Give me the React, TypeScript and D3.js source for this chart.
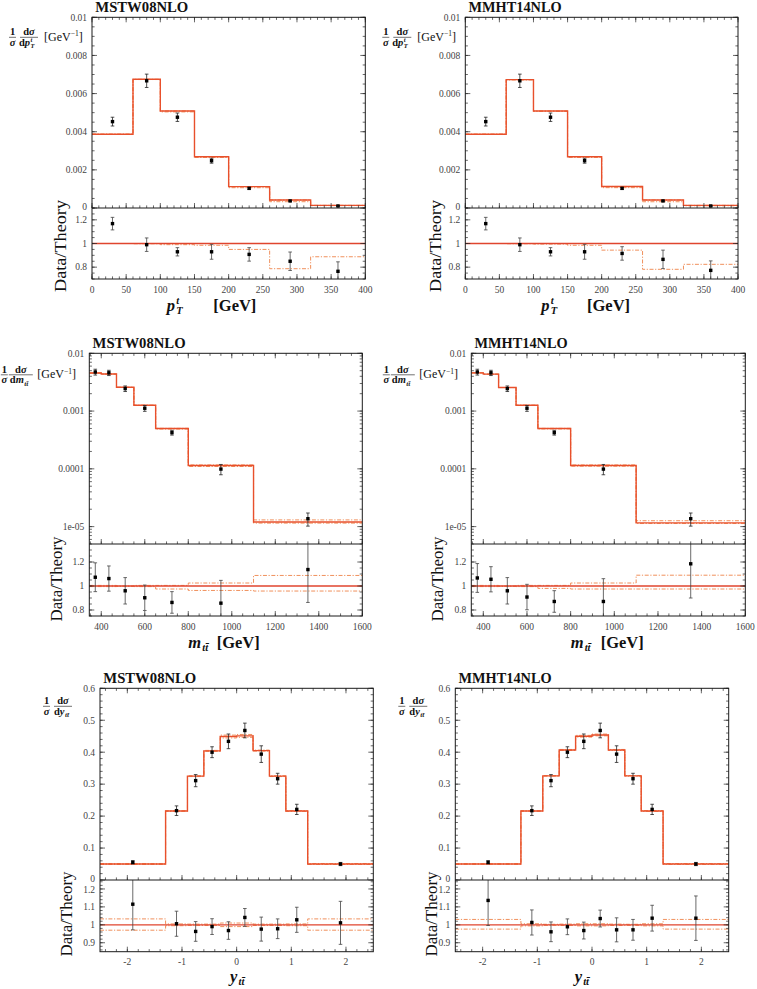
import React from "react";
import * as d3 from "d3";

// ---------------- data ----------------
const pdfTitles = ["MSTW08NLO", "MMHT14NLO"];

// top-quark transverse momentum p_T^t
const ptEdges = [0, 60, 100, 150, 200, 260, 320, 400];
const ptCenters = [30, 80, 125, 175, 230, 290, 360];
const ptData = [0.00453, 0.00667, 0.00476, 0.00248, 0.00103, 0.00037, 0.000105];
const ptDataErr = [0.00023, 0.00035, 0.00022, 0.00013, 0.00005, 0.00003, 0.00002];
const ptTheoryMSTW = [0.00387, 0.00675, 0.00509, 0.00269, 0.00112, 0.00042, 0.00014];
const ptTheoryMMHT = [0.00387, 0.00673, 0.00509, 0.00269, 0.00113, 0.00042, 0.00014];
const ptBandHiMSTW = [1, 1, 1, 1, 1, 1, 1];
const ptBandLoMSTW = [1.0, 0.998, 0.99, 0.985, 0.95, 0.787, 0.888];
const ptBandHiMMHT = [1, 1, 1, 1, 1, 1, 1];
const ptBandLoMMHT = [1.0, 0.998, 0.995, 0.985, 0.944, 0.782, 0.824];
const ptRatioMSTW = [1.168, 0.99, 0.93, 0.93, 0.908, 0.85, 0.765];
const ptRatioErrMSTW = [0.053, 0.057, 0.035, 0.063, 0.057, 0.078, 0.08];
const ptRatioMMHT = [1.168, 0.99, 0.93, 0.93, 0.916, 0.866, 0.773];
const ptRatioErrMMHT = [0.053, 0.057, 0.035, 0.063, 0.057, 0.078, 0.08];

// top-pair invariant mass m_tt
const mEdges = [345, 400, 470, 550, 650, 800, 1100, 1600];
const mCenters = [372.5, 435, 510, 600, 725, 950, 1350];
const mData = [0.00475, 0.0046, 0.00245, 0.00112, 0.000424, 0.000099, 0.0000137];
const mDataErr = [0.00055, 0.00048, 0.00027, 0.00013, 0.00004, 0.00002, 0.0000035];
const mTheoryMSTW = [0.00455, 0.00438, 0.00258, 0.00126, 0.0005, 0.000114, 0.000012];
const mTheoryMMHT = [0.00458, 0.00436, 0.00256, 0.00126, 0.0005, 0.000114, 0.0000116];
const mBandHiMSTW = [1.005, 1.005, 1.0, 1.005, 1.005, 1.025, 1.088];
const mBandLoMSTW = [0.995, 0.995, 0.997, 0.995, 0.975, 0.963, 0.958];
const mBandHiMMHT = [1.005, 1.005, 1.0, 1.005, 1.005, 1.025, 1.09];
const mBandLoMMHT = [0.995, 0.995, 0.997, 0.995, 0.98, 0.975, 0.975];
const mRatioMSTW = [1.073, 1.062, 0.96, 0.902, 0.863, 0.857, 1.137];
const mRatioErrMSTW = [0.12, 0.105, 0.11, 0.106, 0.09, 0.19, 0.274];
const mRatioMMHT = [1.067, 1.056, 0.96, 0.908, 0.871, 0.871, 1.185];
const mRatioErrMMHT = [0.12, 0.105, 0.11, 0.106, 0.09, 0.19, 0.285];

// top-pair rapidity y_tt
const yEdges = [-2.5, -1.3, -0.9, -0.6, -0.3, 0, 0.3, 0.6, 0.9, 1.3, 2.5];
const yCenters = [-1.9, -1.1, -0.75, -0.45, -0.15, 0.15, 0.45, 0.75, 1.1, 1.9];
const yData = [0.0553, 0.217, 0.311, 0.4, 0.434, 0.468, 0.394, 0.317, 0.221, 0.05];
const yDataErr = [0.005, 0.015, 0.019, 0.017, 0.023, 0.023, 0.026, 0.017, 0.016, 0.005];
const yTheoryMSTW = [0.05, 0.216, 0.325, 0.404, 0.449, 0.451, 0.405, 0.325, 0.216, 0.05];
const yTheoryMMHT = [0.05, 0.216, 0.326, 0.407, 0.45, 0.454, 0.407, 0.326, 0.216, 0.05];
const yBandHiMSTW = [1.033, 1.005, 1.004, 1.004, 1.01, 1.01, 1.004, 1.004, 1.005, 1.033];
const yBandLoMSTW = [0.97, 0.995, 0.996, 0.996, 0.99, 0.99, 0.996, 0.996, 0.995, 0.97];
const yBandHiMMHT = [1.03, 1.006, 1.003, 1.004, 1.006, 1.006, 1.004, 1.003, 1.006, 1.03];
const yBandLoMMHT = [0.976, 0.994, 0.997, 0.996, 0.994, 0.994, 0.996, 0.997, 0.994, 0.976];
const yRatioMSTW = [1.115, 1.006, 0.963, 0.99, 0.968, 1.041, 0.976, 0.978, 1.028, 1.011];
const yRatioErrMSTW = [0.143, 0.07, 0.055, 0.044, 0.049, 0.05, 0.067, 0.055, 0.07, 0.12];
const yRatioMMHT = [1.136, 1.013, 0.961, 0.989, 0.968, 1.035, 0.972, 0.972, 1.037, 1.037];
const yRatioErrMMHT = [0.14, 0.07, 0.055, 0.044, 0.047, 0.047, 0.067, 0.058, 0.072, 0.124];

// ---------------- ticks ----------------
const ptXTicks = [0, 50, 100, 150, 200, 250, 300, 350, 400];
const ptXLabels = ["0", "50", "100", "150", "200", "250", "300", "350", "400"];
const ptYTicks = [0, 0.002, 0.004, 0.006, 0.008, 0.01];
const ptYLabels = ["0", "0.002", "0.004", "0.006", "0.008", "0.01"];
const ptRTicks = [0.8, 1, 1.2];
const ptRLabels = ["0.8", "1", "1.2"];
const mXTicks = [400, 600, 800, 1000, 1200, 1400, 1600];
const mXLabels = ["400", "600", "800", "1000", "1200", "1400", "1600"];
const mYTicks = [0.01, 0.001, 0.0001, 0.00001];
const mYLabels = ["0.01", "0.001", "0.0001", "1e-05"];
const mRTicks = [0.8, 1, 1.2];
const mRLabels = ["0.8", "1", "1.2"];
const yXTicks = [-2, -1, 0, 1, 2];
const yXLabels = ["-2", "-1", "0", "1", "2"];
const yYTicks = [0, 0.1, 0.2, 0.3, 0.4, 0.5, 0.6];
const yYLabels = ["0", "0.1", "0.2", "0.3", "0.4", "0.5", "0.6"];
const yRTicks = [0.9, 1, 1.1, 1.2];
const yRLabels = ["0.9", "1", "1.1", "1.2"];

const minorTicks = (a: number, b: number, s: number) =>
  d3.range(Math.round(a / s), Math.round(b / s) + 1).map((k) => +(k * s).toFixed(6));
const logMinor = (lo: number, hi: number) => {
  const out: number[] = [];
  for (let e = -7; e <= -1; e++) for (let k = 1; k <= 9; k++) {
    const v = k * Math.pow(10, e);
    if (v >= lo && v <= hi) out.push(v);
  }
  return out;
};

// ---------------- layout ----------------
type Lay = { L: number; T: number; W: number; MH: number; RH: number; dtX: number; dtY: number; dtLen: number; mathX: number; gevX: number; xtY: number };
const layouts: Lay[] = [
  { L: 92, T: 17.3, W: 273.3, MH: 190.7, RH: 71, dtX: 60, dtY: 246, dtLen: 92, mathX: 166.7, gevX: 213.3, xtY: 311 },
  { L: 465.3, T: 17.3, W: 272.7, MH: 190.7, RH: 71, dtX: 434.7, dtY: 246, dtLen: 92, mathX: 541.3, gevX: 587, xtY: 311 },
  { L: 89.3, T: 353.3, W: 273, MH: 190.7, RH: 72, dtX: 56, dtY: 579, dtLen: 85, mathX: 188.3, gevX: 216.7, xtY: 647.5 },
  { L: 471.3, T: 353.3, W: 274, MH: 190.7, RH: 72, dtX: 437, dtY: 579, dtLen: 85, mathX: 570.7, gevX: 600.7, xtY: 647.5 },
  { L: 100, T: 688.3, W: 273.3, MH: 191.7, RH: 71.7, dtX: 65.8, dtY: 914, dtLen: 85, mathX: 230, gevX: 0, xtY: 982 },
  { L: 455.3, T: 688.3, W: 273.4, MH: 191.7, RH: 71.7, dtX: 431, dtY: 914, dtLen: 85, mathX: 574.7, gevX: 0, xtY: 982 },
];

type Cfg = {
  id: string; kind: "pt" | "m" | "y"; title: string; lay: Lay;
  xDomain: [number, number]; xMajor: number[]; xLabels: string[]; xMinor: number[];
  yLog: boolean; yDomain: [number, number]; yMajor: number[]; yLabels: string[]; yMinor: number[];
  rDomain: [number, number]; rMajor: number[]; rLabels: string[]; rMinor: number[];
  edges: number[]; centers: number[]; data: number[]; dataErr: number[];
  theory: number[]; bandLo: number[]; bandHi: number[]; ratio: number[]; ratioErr: number[];
};

const ptCommon = {
  kind: "pt" as const, xDomain: [0, 400] as [number, number], xMajor: ptXTicks, xLabels: ptXLabels, xMinor: minorTicks(0, 400, 10),
  yLog: false, yDomain: [0, 0.01] as [number, number], yMajor: ptYTicks, yLabels: ptYLabels, yMinor: minorTicks(0, 0.01, 0.0005),
  rDomain: [0.7, 1.3] as [number, number], rMajor: ptRTicks, rLabels: ptRLabels, rMinor: minorTicks(0.7, 1.3, 0.05),
  edges: ptEdges, centers: ptCenters, data: ptData, dataErr: ptDataErr,
};
const mCommon = {
  kind: "m" as const, xDomain: [345, 1600] as [number, number], xMajor: mXTicks, xLabels: mXLabels, xMinor: minorTicks(350, 1600, 50),
  yLog: true, yDomain: [5e-6, 0.01] as [number, number], yMajor: mYTicks, yLabels: mYLabels, yMinor: logMinor(5e-6, 0.01),
  rDomain: [0.75, 1.35] as [number, number], rMajor: mRTicks, rLabels: mRLabels, rMinor: minorTicks(0.75, 1.35, 0.05),
  edges: mEdges, centers: mCenters, data: mData, dataErr: mDataErr,
};
const yCommon = {
  kind: "y" as const, xDomain: [-2.5, 2.5] as [number, number], xMajor: yXTicks, xLabels: yXLabels, xMinor: minorTicks(-2.4, 2.4, 0.2),
  yLog: false, yDomain: [0, 0.6] as [number, number], yMajor: yYTicks, yLabels: yYLabels, yMinor: minorTicks(0, 0.6, 0.02),
  rDomain: [0.85, 1.25] as [number, number], rMajor: yRTicks, rLabels: yRLabels, rMinor: minorTicks(0.86, 1.24, 0.02),
  edges: yEdges, centers: yCenters, data: yData, dataErr: yDataErr,
};

const panels: Cfg[] = [
  { ...ptCommon, id: "p1", title: pdfTitles[0], lay: layouts[0], theory: ptTheoryMSTW, bandLo: ptBandLoMSTW, bandHi: ptBandHiMSTW, ratio: ptRatioMSTW, ratioErr: ptRatioErrMSTW },
  { ...ptCommon, id: "p2", title: pdfTitles[1], lay: layouts[1], theory: ptTheoryMMHT, bandLo: ptBandLoMMHT, bandHi: ptBandHiMMHT, ratio: ptRatioMMHT, ratioErr: ptRatioErrMMHT },
  { ...mCommon, id: "p3", title: pdfTitles[0], lay: layouts[2], theory: mTheoryMSTW, bandLo: mBandLoMSTW, bandHi: mBandHiMSTW, ratio: mRatioMSTW, ratioErr: mRatioErrMSTW },
  { ...mCommon, id: "p4", title: pdfTitles[1], lay: layouts[3], theory: mTheoryMMHT, bandLo: mBandLoMMHT, bandHi: mBandHiMMHT, ratio: mRatioMMHT, ratioErr: mRatioErrMMHT },
  { ...yCommon, id: "p5", title: pdfTitles[0], lay: layouts[4], theory: yTheoryMSTW, bandLo: yBandLoMSTW, bandHi: yBandHiMSTW, ratio: yRatioMSTW, ratioErr: yRatioErrMSTW },
  { ...yCommon, id: "p6", title: pdfTitles[1], lay: layouts[5], theory: yTheoryMMHT, bandLo: yBandLoMMHT, bandHi: yBandHiMMHT, ratio: yRatioMMHT, ratioErr: yRatioErrMMHT },
];

// ---------------- styles ----------------
const SERIF = "'Liberation Serif', 'Times New Roman', serif";
const LINE = "#e8502c";
const CENTER = "#e0452e";
const DASH = "#f0905c";
const TICKC = "#2a2a2a";
const LABELC = "#444";

function YLabel({ kind, L, T }: { kind: "pt" | "m" | "y"; L: number; T: number }) {
  const fs = 10.5;
  let yc: number, f1: number, f2: number, f2w: number, gev: number | null;
  if (kind === "pt") { yc = T + 20; f1 = L - 79.5; f2 = L - 63; f2w = 18; gev = L - 48; }
  else if (kind === "m") { yc = T + 21.5; f1 = L - 85; f2 = L - 68.5; f2w = 24; gev = L - 52; }
  else { yc = T + 18; f1 = L - 53.5; f2 = L - 37; f2w = 18; gev = null; }
  return (
    <g fontFamily={SERIF} fill="#111" fontWeight="bold">
      <text x={f1} y={yc - 2} textAnchor="middle" fontSize={fs}>1</text>
      <line x1={f1 - 3.5} x2={f1 + 3.5} y1={yc} y2={yc} stroke="#111" strokeWidth={0.6} />
      <text x={f1} y={yc + 8.5} textAnchor="middle" fontSize={fs} fontStyle="italic">σ</text>
      <text x={f2} y={yc - 2} textAnchor="middle" fontSize={fs}>d<tspan fontStyle="italic">σ</tspan></text>
      <line x1={f2 - f2w / 2} x2={f2 + f2w / 2} y1={yc} y2={yc} stroke="#111" strokeWidth={0.6} />
      {kind === "pt" && (
        <g>
          <text x={f2 + 1} y={yc + 8.5} textAnchor="end" fontSize={fs}>d<tspan fontStyle="italic">p</tspan></text>
          <text x={f2 + 1.5} y={yc + 11} fontSize={6.5} fontStyle="italic">T</text>
          <text x={f2 + 1.5} y={yc + 5} fontSize={6.5} fontStyle="italic">t</text>
        </g>
      )}
      {kind === "m" && (
        <g>
          <text x={f2 + 3} y={yc + 8.5} textAnchor="end" fontSize={fs}>d<tspan fontStyle="italic">m</tspan></text>
          <text x={f2 + 3.5} y={yc + 11} fontSize={7} fontStyle="italic">t{"t\u0304"}</text>
        </g>
      )}
      {kind === "y" && (
        <g>
          <text x={f2 + 1.5} y={yc + 8.5} textAnchor="end" fontSize={fs}>d<tspan fontStyle="italic">y</tspan></text>
          <text x={f2 + 2} y={yc + 11} fontSize={7} fontStyle="italic">t{"t\u0304"}</text>
        </g>
      )}
      {gev !== null && (
        <text x={gev} y={yc + 3.5} fontSize={12} fontWeight="normal">
          [GeV<tspan dy={-4.5} fontSize={7.5}>−1</tspan><tspan dy={4.5}>]</tspan>
        </text>
      )}
    </g>
  );
}

function XTitle({ kind, lay }: { kind: "pt" | "m" | "y"; lay: Lay }) {
  const fs = 16.5;
  const y = lay.xtY;
  return (
    <g fontFamily={SERIF} fill="#111" fontWeight="bold">
      {kind === "pt" && (
        <g>
          <text x={lay.mathX} y={y} fontSize={fs} fontStyle="italic">p</text>
          <text x={lay.mathX + 9.5} y={y + 3} fontSize={10.5} fontStyle="italic">T</text>
          <text x={lay.mathX + 9.5} y={y - 7} fontSize={10.5} fontStyle="italic">t</text>
        </g>
      )}
      {kind === "m" && (
        <g>
          <text x={lay.mathX} y={y} fontSize={fs} fontStyle="italic">m</text>
          <text x={lay.mathX + 14} y={y + 3} fontSize={10.5} fontStyle="italic">t{"t\u0304"}</text>
        </g>
      )}
      {kind === "y" && (
        <g>
          <text x={lay.mathX} y={y} fontSize={fs} fontStyle="italic">y</text>
          <text x={lay.mathX + 8.5} y={y + 3} fontSize={10.5} fontStyle="italic">t{"t\u0304"}</text>
        </g>
      )}
      {kind !== "y" && (
        <text x={lay.gevX} y={y} fontSize={fs}>[GeV]</text>
      )}
    </g>
  );
}

function Panel({ c }: { c: Cfg }) {
  const { L, T, W, MH, RH } = c.lay;
  const R = L + W;
  const B = T + MH;
  const RB = B + RH;
  const x = d3.scaleLinear().domain(c.xDomain).range([L, R]);
  const y: any = c.yLog
    ? d3.scaleLog().domain(c.yDomain).range([B, T])
    : d3.scaleLinear().domain(c.yDomain).range([B, T]);
  const r = d3.scaleLinear().domain(c.rDomain).range([RB, B]);
  const n = c.theory.length;
  const steps = (vals: number[]) =>
    vals.map((v, i) => [c.edges[i], v] as [number, number]).concat([[c.edges[n], vals[n - 1]]]);
  const mainLine = d3.line<[number, number]>().x((d) => x(d[0])).y((d) => y(d[1])).curve(d3.curveStepAfter);
  const ratioLine = d3.line<[number, number]>().x((d) => x(d[0])).y((d) => r(d[1])).curve(d3.curveStepAfter);
  const hiMain = c.theory.map((t, i) => t * c.bandHi[i]);
  const loMain = c.theory.map((t, i) => t * c.bandLo[i]);
  const ones = c.theory.map(() => 1);

  const ticks: [number, number, number, number][] = [];
  const MJ = 5, MN = 2.6;
  const inX = (v: number) => v >= c.xDomain[0] && v <= c.xDomain[1];
  c.xMajor.filter(inX).forEach((v) => {
    const px = x(v);
    ticks.push([px, B, px, B - MJ], [px, T, px, T + MJ], [px, RB, px, RB - MJ]);
  });
  c.xMinor.filter(inX).forEach((v) => {
    const px = x(v);
    ticks.push([px, B, px, B - MN], [px, T, px, T + MN], [px, RB, px, RB - MN]);
  });
  c.yMajor.forEach((v) => { const py = y(v); ticks.push([L, py, L + MJ, py], [R, py, R - MJ, py]); });
  c.yMinor.forEach((v) => { const py = y(v); ticks.push([L, py, L + MN, py], [R, py, R - MN, py]); });
  c.rMajor.forEach((v) => { const py = r(v); ticks.push([L, py, L + MJ, py], [R, py, R - MJ, py]); });
  c.rMinor.forEach((v) => { const py = r(v); ticks.push([L, py, L + MN, py], [R, py, R - MN, py]); });

  const dash = "4 1.6 1.2 1.6";
  const cap = 1.8;
  return (
    <g>
      <defs>
        <clipPath id={c.id + "m"}><rect x={L} y={T} width={W} height={MH} /></clipPath>
        <clipPath id={c.id + "r"}><rect x={L} y={B} width={W} height={RH} /></clipPath>
      </defs>
      <text x={L + 3.3} y={T - 5} fontFamily={SERIF} fontWeight="bold" fontSize={14} textLength={93} lengthAdjust="spacingAndGlyphs" fill="#111">{c.title}</text>
      <g clipPath={`url(#${c.id}m)`}>
        <path d={mainLine(steps(hiMain)) || ""} fill="none" stroke={DASH} strokeWidth={1} strokeDasharray={dash} />
        <path d={mainLine(steps(loMain)) || ""} fill="none" stroke={DASH} strokeWidth={1} strokeDasharray={dash} />
        <path d={mainLine(steps(c.theory)) || ""} fill="none" stroke={LINE} strokeWidth={1.4} />
        {c.centers.map((cx, i) => {
          const px = x(cx);
          const y1 = y(c.data[i] + c.dataErr[i]);
          const y2 = y(Math.max(c.data[i] - c.dataErr[i], c.yDomain[0] * 1.0001 || 0));
          return (
            <g key={i}>
              <line x1={px} x2={px} y1={y1} y2={y2} stroke="#222" strokeWidth={0.8} />
              <line x1={px - cap} x2={px + cap} y1={y1} y2={y1} stroke="#222" strokeWidth={0.8} />
              <line x1={px - cap} x2={px + cap} y1={y2} y2={y2} stroke="#222" strokeWidth={0.8} />
              <rect x={px - 1.7} y={y(c.data[i]) - 1.7} width={3.4} height={3.4} fill="#000" />
            </g>
          );
        })}
      </g>
      <g clipPath={`url(#${c.id}r)`}>
        <path d={ratioLine(steps(c.bandHi)) || ""} fill="none" stroke={DASH} strokeWidth={1} strokeDasharray={dash} />
        <path d={ratioLine(steps(c.bandLo)) || ""} fill="none" stroke={DASH} strokeWidth={1} strokeDasharray={dash} />
        <path d={ratioLine(steps(ones)) || ""} fill="none" stroke={CENTER} strokeWidth={1.3} />
        {c.centers.map((cx, i) => {
          const px = x(cx);
          const y1 = r(c.ratio[i] + c.ratioErr[i]);
          const y2 = r(c.ratio[i] - c.ratioErr[i]);
          return (
            <g key={i}>
              <line x1={px} x2={px} y1={y1} y2={y2} stroke="#444" strokeWidth={0.8} />
              <line x1={px - cap} x2={px + cap} y1={y1} y2={y1} stroke="#444" strokeWidth={0.8} />
              <line x1={px - cap} x2={px + cap} y1={y2} y2={y2} stroke="#444" strokeWidth={0.8} />
              <rect x={px - 1.7} y={r(c.ratio[i]) - 1.7} width={3.4} height={3.4} fill="#000" />
            </g>
          );
        })}
      </g>
      <g stroke={TICKC} strokeWidth={0.7}>
        {ticks.map((t, i) => <line key={i} x1={t[0]} y1={t[1]} x2={t[2]} y2={t[3]} />)}
      </g>
      <rect x={L} y={T} width={W} height={MH + RH} fill="none" stroke="#1a1a1a" strokeWidth={1} />
      <line x1={L} x2={R} y1={B} y2={B} stroke="#1a1a1a" strokeWidth={1.1} />
      <g fontFamily={SERIF} fontSize={9.5} fill={LABELC}>
        {c.xMajor.map((v, i) => (
          <text key={"x" + i} x={x(v)} y={RB + 13.5} textAnchor="middle">{c.xLabels[i]}</text>
        ))}
        {c.yMajor.map((v, i) => (
          <text key={"y" + i} x={L - 5} y={y(v) - (v === c.yDomain[0] ? 1.5 : 0)} dy="0.35em" textAnchor="end">{c.yLabels[i]}</text>
        ))}
        {c.rMajor.map((v, i) => (
          <text key={"r" + i} x={L - 5} y={r(v) + (i === c.rMajor.length - 1 && c.kind === "y" ? 0.8 : 0)} dy="0.35em" textAnchor="end">{c.rLabels[i]}</text>
        ))}
      </g>
      <text
        transform={`translate(${c.lay.dtX},${c.lay.dtY}) rotate(-90)`}
        textAnchor="middle" dy="0.35em" fontFamily={SERIF} fontSize={17} fill="#111"
        textLength={c.lay.dtLen} lengthAdjust="spacingAndGlyphs"
      >Data/Theory</text>
      <YLabel kind={c.kind} L={L} T={T} />
      <XTitle kind={c.kind} lay={c.lay} />
    </g>
  );
}

export default function App() {
  return (
    <svg
      width={757}
      height={989}
      viewBox="0 0 757 989"
      style={{ position: "absolute", left: 0, top: 0, background: "#fff" }}
    >
      <rect x={0} y={0} width={757} height={989} fill="#fff" />
      {panels.map((c) => <Panel key={c.id} c={c} />)}
    </svg>
  );
}
